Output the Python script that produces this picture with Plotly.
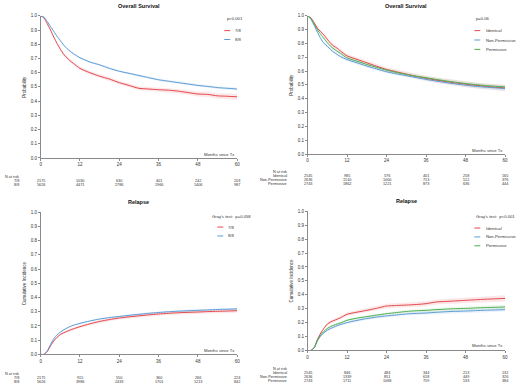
import plotly.graph_objects as go

W, H = 520, 387

# ---------------- data ----------------
months = [0, 1, 2, 3, 4, 5, 6, 7, 8, 9, 10, 12, 15, 18, 21, 24, 27, 30, 33, 36, 39, 42, 45, 48, 51, 54, 57, 60]
x_ticks = [0, 12, 24, 36, 48, 60]

# Panel 1: Overall survival by 7/8 vs 8/8
os_78 = [1.0, 0.985, 0.945, 0.90, 0.85, 0.805, 0.765, 0.73, 0.705, 0.683, 0.665, 0.63, 0.60, 0.575, 0.555, 0.53,
         0.51, 0.49, 0.485, 0.48, 0.477, 0.47, 0.46, 0.45, 0.447, 0.437, 0.434, 0.43]
os_88 = [1.0, 0.99, 0.96, 0.925, 0.89, 0.855, 0.825, 0.795, 0.77, 0.75, 0.733, 0.705, 0.675, 0.655, 0.63, 0.61,
         0.595, 0.58, 0.565, 0.55, 0.54, 0.53, 0.52, 0.51, 0.503, 0.495, 0.49, 0.485]
os_78_hw = [0, 0.004, 0.006, 0.007, 0.008, 0.009, 0.01, 0.01, 0.01, 0.011, 0.011, 0.011, 0.012, 0.012, 0.012, 0.013,
            0.013, 0.014, 0.014, 0.015, 0.015, 0.016, 0.016, 0.017, 0.018, 0.018, 0.019, 0.02]
os_88_hw = [0, 0.002, 0.003, 0.004, 0.005, 0.005, 0.006, 0.006, 0.006, 0.006, 0.007, 0.007, 0.007, 0.007, 0.008, 0.008,
            0.008, 0.008, 0.009, 0.009, 0.009, 0.009, 0.01, 0.01, 0.01, 0.01, 0.011, 0.011]

# Panel 2: Overall survival by DPB1 group
os_ident = [1.0, 0.985, 0.95, 0.91, 0.885, 0.86, 0.83, 0.80, 0.78, 0.765, 0.745, 0.71, 0.685, 0.66, 0.635, 0.612,
            0.595, 0.578, 0.562, 0.548, 0.535, 0.524, 0.514, 0.505, 0.497, 0.49, 0.483, 0.478]
os_nonperm = [1.0, 0.975, 0.93, 0.88, 0.835, 0.80, 0.78, 0.755, 0.735, 0.72, 0.705, 0.683, 0.66, 0.636, 0.615, 0.595,
              0.58, 0.567, 0.553, 0.54, 0.528, 0.517, 0.507, 0.498, 0.49, 0.484, 0.479, 0.474]
os_perm = [1.0, 0.98, 0.94, 0.898, 0.865, 0.835, 0.805, 0.78, 0.76, 0.743, 0.728, 0.695, 0.672, 0.648, 0.627, 0.607,
           0.59, 0.576, 0.563, 0.552, 0.54, 0.529, 0.519, 0.51, 0.502, 0.495, 0.49, 0.486]
os_ident_hw = [0, 0.005, 0.007, 0.009, 0.01, 0.011, 0.012, 0.012, 0.013, 0.013, 0.013, 0.014, 0.014, 0.015, 0.015, 0.016,
               0.016, 0.017, 0.017, 0.018, 0.018, 0.019, 0.019, 0.02, 0.02, 0.021, 0.021, 0.022]
os_nonperm_hw = [0, 0.004, 0.006, 0.007, 0.008, 0.009, 0.009, 0.01, 0.01, 0.01, 0.011, 0.011, 0.012, 0.012, 0.012, 0.013,
                 0.013, 0.013, 0.014, 0.014, 0.015, 0.015, 0.015, 0.016, 0.016, 0.017, 0.017, 0.018]
os_perm_hw = [0, 0.004, 0.005, 0.007, 0.008, 0.008, 0.009, 0.009, 0.01, 0.01, 0.01, 0.011, 0.011, 0.011, 0.012, 0.012,
              0.012, 0.013, 0.013, 0.013, 0.014, 0.014, 0.014, 0.015, 0.015, 0.015, 0.016, 0.016]

# Panel 3: Relapse by 7/8 vs 8/8
rel_78 = [0, 0.0, 0.02, 0.06, 0.095, 0.12, 0.14, 0.152, 0.162, 0.172, 0.18, 0.195, 0.215, 0.232, 0.245, 0.256,
          0.264, 0.271, 0.278, 0.284, 0.289, 0.293, 0.296, 0.298, 0.301, 0.303, 0.305, 0.307]
rel_88 = [0, 0.0, 0.025, 0.07, 0.11, 0.138, 0.157, 0.172, 0.185, 0.196, 0.205, 0.218, 0.235, 0.249, 0.259, 0.267,
          0.275, 0.282, 0.289, 0.295, 0.30, 0.304, 0.307, 0.31, 0.313, 0.316, 0.318, 0.32]
rel_78_hw = [0, 0.0, 0.003, 0.005, 0.006, 0.007, 0.008, 0.008, 0.009, 0.009, 0.009, 0.01, 0.01, 0.01, 0.011, 0.011,
             0.011, 0.011, 0.012, 0.012, 0.012, 0.012, 0.013, 0.013, 0.013, 0.013, 0.014, 0.014]
rel_88_hw = [0, 0.0, 0.002, 0.003, 0.004, 0.004, 0.005, 0.005, 0.005, 0.005, 0.006, 0.006, 0.006, 0.006, 0.006, 0.007,
             0.007, 0.007, 0.007, 0.007, 0.008, 0.008, 0.008, 0.008, 0.008, 0.008, 0.009, 0.009]

# Panel 4: Relapse by DPB1 group
rel_ident = [0, 0.0, 0.02, 0.08, 0.125, 0.16, 0.19, 0.205, 0.215, 0.225, 0.235, 0.26, 0.275, 0.288, 0.303, 0.319,
             0.323, 0.326, 0.33, 0.336, 0.348, 0.352, 0.356, 0.36, 0.364, 0.368, 0.371, 0.374]
rel_nonperm = [0, 0.0, 0.02, 0.07, 0.105, 0.128, 0.145, 0.158, 0.168, 0.178, 0.186, 0.20, 0.216, 0.229, 0.24, 0.248,
               0.255, 0.262, 0.266, 0.269, 0.274, 0.278, 0.281, 0.283, 0.286, 0.289, 0.291, 0.293]
rel_perm = [0, 0.0, 0.02, 0.074, 0.112, 0.138, 0.158, 0.172, 0.182, 0.19, 0.198, 0.217, 0.232, 0.243, 0.254, 0.264,
            0.272, 0.28, 0.285, 0.288, 0.293, 0.297, 0.30, 0.302, 0.305, 0.308, 0.31, 0.312]
rel_ident_hw = [0, 0.0, 0.004, 0.007, 0.009, 0.01, 0.011, 0.012, 0.012, 0.013, 0.013, 0.014, 0.014, 0.015, 0.015, 0.016,
                0.016, 0.017, 0.017, 0.018, 0.018, 0.019, 0.019, 0.02, 0.02, 0.021, 0.021, 0.022]
rel_nonperm_hw = [0, 0.0, 0.003, 0.005, 0.006, 0.007, 0.008, 0.008, 0.009, 0.009, 0.009, 0.01, 0.01, 0.01, 0.011, 0.011,
                  0.011, 0.011, 0.012, 0.012, 0.012, 0.012, 0.013, 0.013, 0.013, 0.013, 0.014, 0.014]
rel_perm_hw = [0, 0.0, 0.003, 0.005, 0.006, 0.007, 0.008, 0.008, 0.008, 0.009, 0.009, 0.009, 0.01, 0.01, 0.01, 0.011,
               0.011, 0.011, 0.012, 0.012, 0.012, 0.012, 0.013, 0.013, 0.013, 0.013, 0.014, 0.014]

# numbers at risk
risk_78_os = [2175, 1030, 630, 401, 242, 203]
risk_88_os = [5626, 4471, 2786, 1966, 1406, 987]
risk_ident_os = [2545, 985, 576, 401, 258, 165]
risk_nonperm_os = [2636, 1510, 1000, 713, 512, 376]
risk_perm_os = [2743, 1862, 1221, 873, 636, 444]
risk_78_rel = [2175, 915, 550, 360, 266, 224]
risk_88_rel = [5626, 3986, 2433, 1701, 1213, 842]
risk_ident_rel = [2545, 846, 484, 344, 213, 132]
risk_nonperm_rel = [2636, 1339, 851, 618, 449, 326]
risk_perm_rel = [2743, 1711, 1068, 759, 533, 384]

# ---------------- styling ----------------
RED, BLUE, GREEN = "#E2474B", "#5B9BD5", "#4CAF50"
BAND = {RED: "rgba(240,120,125,0.18)", BLUE: "rgba(110,165,220,0.14)", GREEN: "rgba(110,190,110,0.14)"}
FONT = "Liberation Sans, Arial, sans-serif"
AX = "#8a8a8a"
TXT = "#333333"
RISK_FS = 3.8


def py(p):
    return 1 - p / H


def px(p):
    return p / W


# panel geometry in pixels
panels = [
    dict(x0=40, x1=238, yt=14, yb=158, title="Overall Survival", ytitle="Probability",
         ms_y=154, ytl_x=24,
         series=[("7/8", os_78, os_78_hw, RED, risk_78_os), ("8/8", os_88, os_88_hw, BLUE, risk_88_os)],
         ptext="p<0.001", leg=dict(tx=226, ty=17, kx=225, lx=234, ys=[29, 38]),
         risk=dict(head=177, rows=[181.3, 185.5], lab_x=20)),
    dict(x0=309, x1=508, yt=14, yb=154, title="Overall Survival", ytitle="Probability",
         ms_y=150, ytl_x=293,
         series=[("Identical", os_ident, os_ident_hw, RED, risk_ident_os),
                 ("Non-Permissive", os_nonperm, os_nonperm_hw, BLUE, risk_nonperm_os),
                 ("Permissive", os_perm, os_perm_hw, GREEN, risk_perm_os)],
         ptext="p=0.06", leg=dict(tx=477, ty=17, kx=477, lx=487, ys=[29, 38.5, 48]),
         risk=dict(head=172.5, rows=[176.4, 180.3, 184.2], lab_x=290)),
    dict(x0=40, x1=238, yt=213, yb=357, title="Relapse", ytitle="Cumulative Incidence",
         ms_y=353, ytl_x=24,
         series=[("7/8", rel_78, rel_78_hw, RED, risk_78_rel), ("8/8", rel_88, rel_88_hw, BLUE, risk_88_rel)],
         ptext="Gray's test:  p=0.058", leg=dict(tx=211, ty=217, kx=218, lx=227, ys=[228, 237]),
         risk=dict(head=376.5, rows=[380.6, 384.6], lab_x=20)),
    dict(x0=309, x1=508, yt=212, yb=353, title="Relapse", ytitle="Cumulative Incidence",
         ms_y=348, ytl_x=293,
         series=[("Identical", rel_ident, rel_ident_hw, RED, risk_ident_rel),
                 ("Non-Permissive", rel_nonperm, rel_nonperm_hw, BLUE, risk_nonperm_rel),
                 ("Permissive", rel_perm, rel_perm_hw, GREEN, risk_perm_rel)],
         ptext="Gray's test:  p<0.001", leg=dict(tx=477, ty=217, kx=477, lx=487, ys=[229, 238, 247]),
         risk=dict(head=372, rows=[376, 380, 384], lab_x=290)),
]

fig = go.Figure()
annotations = []
shapes = []
layout = {}

for i, p in enumerate(panels, start=1):
    xa = "x" if i == 1 else f"x{i}"
    ya = "y" if i == 1 else f"y{i}"
    xkey = "xaxis" if i == 1 else f"xaxis{i}"
    ykey = "yaxis" if i == 1 else f"yaxis{i}"
    layout[xkey] = dict(domain=[px(p["x0"]), px(p["x1"])], anchor=ya, range=[0, 60],
                        tickmode="array", tickvals=x_ticks, ticks="outside", ticklen=2, tickwidth=0.6,
                        tickcolor=AX, showline=True, linecolor=AX, linewidth=0.6, showgrid=False,
                        zeroline=False, tickfont=dict(size=4.5, color=TXT, family=FONT))
    layout[ykey] = dict(domain=[py(p["yb"]), py(p["yt"])], anchor=xa, range=[0, 1],
                        tickmode="array", tickvals=[k / 10 for k in range(11)],
                        ticktext=[f"{k / 10:.1f}" for k in range(11)], ticks="outside", ticklen=2,
                        tickwidth=0.6, tickcolor=AX, showline=True, linecolor=AX, linewidth=0.6,
                        showgrid=False, zeroline=False, tickfont=dict(size=4.5, color=TXT, family=FONT))

    for name, vals, hw, col, _ in p["series"]:
        lo = [v - h for v, h in zip(vals, hw)]
        hi = [v + h for v, h in zip(vals, hw)]
        fig.add_trace(go.Scatter(x=months, y=lo, xaxis=xa, yaxis=ya, mode="lines",
                                 line=dict(width=0, color=col), showlegend=False, hoverinfo="skip"))
        fig.add_trace(go.Scatter(x=months, y=hi, xaxis=xa, yaxis=ya, mode="lines", fill="tonexty",
                                 fillcolor=BAND[col], line=dict(width=0, color=col), showlegend=False,
                                 hoverinfo="skip"))
    for name, vals, hw, col, _ in p["series"]:
        fig.add_trace(go.Scatter(x=months, y=vals, xaxis=xa, yaxis=ya, mode="lines", name=name,
                                 line=dict(width=1, color=col, shape="spline", smoothing=0.6),
                                 showlegend=False))

    # title
    annotations.append(dict(text=f"<b>{p['title']}</b>", x=px((p["x0"] + p["x1"]) / 2), y=py(p["yt"] - 10),
                            xref="paper", yref="paper", showarrow=False, xanchor="center", yanchor="middle",
                            font=dict(size=5.5, color="#111", family=FONT)))
    # y title
    annotations.append(dict(text=p["ytitle"], x=px(p["ytl_x"]), y=py((p["yt"] + p["yb"]) / 2),
                            xref="paper", yref="paper", showarrow=False, textangle=-90,
                            xanchor="center", yanchor="middle", font=dict(size=4.5, color=TXT, family=FONT)))
    # x label inside plot
    annotations.append(dict(text="Months since Tx", x=60, xref=xa, y=py(p["ms_y"]), yref="paper",
                            showarrow=False, xanchor="right", yanchor="middle",
                            font=dict(size=4.2, color=TXT, family=FONT)))
    # legend
    lg = p["leg"]
    annotations.append(dict(text=p["ptext"], x=px(lg["tx"]), y=py(lg["ty"]), xref="paper", yref="paper",
                            showarrow=False, xanchor="left", yanchor="middle",
                            font=dict(size=4.2, color=TXT, family=FONT)))
    for (name, vals, hw, col, _), yy in zip(p["series"], lg["ys"]):
        shapes.append(dict(type="line", xref="paper", yref="paper", x0=px(lg["kx"]), x1=px(lg["kx"] + 6),
                           y0=py(yy), y1=py(yy), line=dict(color=col, width=1)))
        annotations.append(dict(text=name, x=px(lg["lx"]), y=py(yy), xref="paper", yref="paper",
                                showarrow=False, xanchor="left", yanchor="middle",
                                font=dict(size=4.2, color=TXT, family=FONT)))
    # risk table
    rk = p["risk"]
    annotations.append(dict(text="N at risk", x=px(rk["lab_x"]), y=py(rk["head"]), xref="paper", yref="paper",
                            showarrow=False, xanchor="right", yanchor="middle",
                            font=dict(size=RISK_FS, color=TXT, family=FONT)))
    for (name, vals, hw, col, risk), yy in zip(p["series"], rk["rows"]):
        annotations.append(dict(text=name, x=px(rk["lab_x"]), y=py(yy), xref="paper", yref="paper",
                                showarrow=False, xanchor="right", yanchor="middle",
                                font=dict(size=RISK_FS, color=TXT, family=FONT)))
        for t, n in zip(x_ticks, risk):
            annotations.append(dict(text=str(n), x=t, xref=xa, y=py(yy), yref="paper", showarrow=False,
                                    xanchor="center", yanchor="middle",
                                    font=dict(size=RISK_FS, color=TXT, family=FONT)))

fig.update_layout(width=W, height=H, margin=dict(l=0, r=0, t=0, b=0), paper_bgcolor="white",
                  plot_bgcolor="white", showlegend=False, annotations=annotations, shapes=shapes,
                  font=dict(family=FONT), **layout)

fig.write_html("out.html", config={"displayModeBar": False},
               post_script="document.body.style.margin='0';document.body.style.overflow='hidden';")
